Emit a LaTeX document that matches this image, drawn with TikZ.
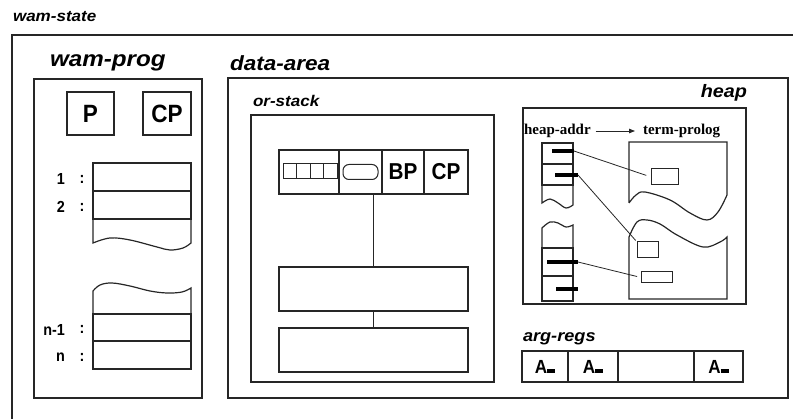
\documentclass[tikz,border=0pt]{standalone}
\usepackage{fontspec}
\usepackage{tikz}
\usetikzlibrary{positioning,arrows.meta,fit}
\newfontfamily\wamfont[FakeStretch=1.1]{Liberation Sans}
\newfontfamily\regfont[FakeStretch=0.9]{Liberation Sans}
\newfontfamily\adrfont{Liberation Serif}

\begin{document}
\begin{tikzpicture}[
    x=1pt, y=-1pt,
    line width=1.2pt, draw=black!85,
    every node/.style={inner sep=0pt, outer sep=0pt},
    area/.style={draw, anchor=north west},
    cell/.style={draw, minimum height=#1},
    title/.style={font=\wamfont\bfseries\itshape\fontsize{#1}{#1}\selectfont, anchor=west},
    reg/.style={font=\regfont\bfseries\fontsize{#1}{#1}\selectfont},
    adr/.style={font=\adrfont\bfseries\fontsize{15}{15}\selectfont, anchor=west},
    bar/.style={fill=black, minimum height=4pt, anchor=west},
    ptr/.style={line width=0.8pt},
    wave/.style={line width=1pt, smooth, tension=0.6},
    arr/.style={-{Triangle[length=6pt,width=4.5pt]}, line width=0.8pt}
]
\useasboundingbox (0,0) rectangle (793,419);

\node[area, minimum width=820, minimum height=420] (state) at (12,35) {};
\node[title=15.5] (state-lab) at (13,17) {wam-state};

\node[area, minimum width=168, minimum height=319] (prog) at (34,79) {};
\node[title=22] (prog-lab) at (50,63) {wam-prog};
\node[area, minimum width=47, minimum height=43, reg=25] (p) at (67,92) {P};
\node[area, minimum width=48, minimum height=43, reg=25] (cp) at (143,92) {CP};

\node[area, cell=28, minimum width=98] (r1) at (93,163) {};
\node[cell=28, minimum width=98, below=0pt of r1] (r2) {};
\draw (r2.south west) -- (93,243) -- plot[wave] coordinates {(93,243) (110,238) (130,240) (157,247) (170,250) (183,248) (191,243)} -- (r2.south east);
\node[area, cell=27, minimum width=98] (r3) at (93,314) {};
\node[cell=28, minimum width=98, below=0pt of r3] (r4) {};
\draw (r3.north west) -- (93,291) -- plot[wave] coordinates {(93,291) (100,285) (112,283) (130,286) (150,291) (167,293) (182,292) (191,288)} -- (r3.north east);
\foreach \r/\t in {r1/1, r2/2, r3/n-1, r4/n} {
  \node[reg=16, anchor=east] (\r-num) at ([xshift=-28pt, yshift=-2pt]\r.west) {\t};
  \node[reg=16] (\r-col) at ([xshift=-11pt, yshift=-2pt]\r.west) {:};
}

\node[area, minimum width=560, minimum height=320] (data) at (228,78) {};
\node[title=20.5] (data-lab) at (230,63) {data-area};
\node[area, minimum width=243, minimum height=267] (orstack) at (251,115) {};
\node[title=15.5] (orstack-lab) at (253,101) {or-stack};

\node[area, cell=44, minimum width=60] (c1) at (279,150) {};
\node[cell=44, minimum width=43, right=0pt of c1] (c2) {};
\node[cell=44, minimum width=42, right=0pt of c2, reg=23] (c3) {BP};
\node[cell=44, minimum width=44, right=0pt of c3, reg=23] (c4) {CP};
\foreach \i in {0,...,3}
  \node[area, minimum width=13.5, minimum height=15, line width=1pt] (m\i) at (283+13.5*\i,164) {};
\node[draw, rounded corners=6pt, minimum width=35, minimum height=15, line width=1pt] (choice) at (c2) {};
\node[fit=(c1)(c4)] (frame) {};
\node[cell=44, minimum width=189, below=73pt of frame] (b1) {};
\node[cell=44, minimum width=189, below=17pt of b1] (b2) {};
\draw (frame.south) -- (b1.north);
\draw (b1.south) -- (b2.north);

\node[area, minimum width=223, minimum height=196] (heap) at (523,108) {};
\node[title=18, anchor=east] (heap-lab) at (747,93) {heap};
\node[adr] (haddr) at (524,131) {heap-addr};
\node[adr] (tprolog) at (643,131) {term-prolog};
\draw[arr, shorten <=5pt, shorten >=8pt] (haddr) -- (tprolog);

\node[area, cell=21, minimum width=31] (a1) at (542,143) {};
\node[cell=21, minimum width=31, below=0pt of a1] (a2) {};
\draw (a2.south west) -- (542,203) -- plot[wave] coordinates {(542,203) (550,199) (558,203) (566,208) (573,205)} -- (a2.south east);
\node[area, cell=28, minimum width=31] (a3) at (542,248) {};
\node[cell=25, minimum width=31, below=0pt of a3] (a4) {};
\draw (a3.north west) -- (542,228) -- plot[wave] coordinates {(542,228) (550,222) (558,223) (566,227) (573,225)} -- (a3.north east);
\node[bar, minimum width=22] (p1) at (552,151) {};
\node[bar, minimum width=23] (p2) at (555,175) {};
\node[bar, minimum width=31] (p3) at (547,262) {};
\node[bar, minimum width=22] (p4) at (556,289) {};

\draw (629,203) -- (629,142) -- (727,142) -- (727,195) -- plot[wave] coordinates {(727,195) (718,212) (707,220) (690,213) (670,200) (645,192) (636,195) (629,203)};
\draw (629,237) -- (629,299) -- (727,299) -- (727,237) -- plot[wave] coordinates {(727,237) (720,242) (703,247) (677,235) (660,224) (647,220) (637,222) (629,237)};
\node[area, minimum width=27, minimum height=16, line width=1pt] (t1) at (651,169) {};
\node[area, minimum width=21, minimum height=16, line width=1pt] (t2) at (637,242) {};
\node[area, minimum width=31, minimum height=11, line width=1pt] (t3) at (641,272) {};
\draw[ptr, shorten >=5pt] (p1.east) -- (t1.west);
\draw[ptr, shorten >=2pt] (p2.east) -- (t2.north west);
\draw[ptr, shorten >=4pt] (p3.east) -- (t3.west);

\node[title=16.5] (args-lab) at (523,339) {arg-regs};
\node[area, cell=31, minimum width=46, reg=19] (g1) at (522,351) {A\rule{8pt}{4pt}};
\node[cell=31, minimum width=50, right=0pt of g1, reg=19] (g2) {A\rule{8pt}{4pt}};
\node[cell=31, minimum width=76, right=0pt of g2] (g3) {};
\node[cell=31, minimum width=49, right=0pt of g3, reg=19] (g4) {A\rule{8pt}{4pt}};
\end{tikzpicture}
\end{document}
